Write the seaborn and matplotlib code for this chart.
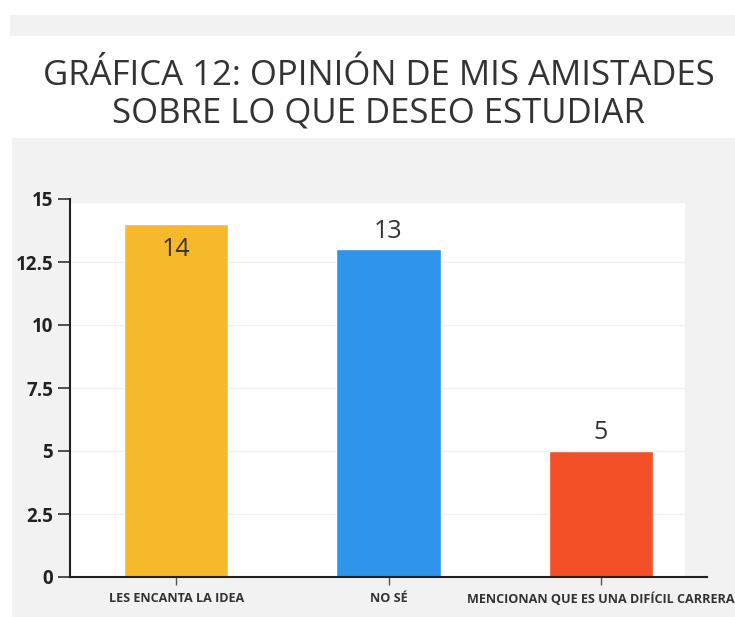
import matplotlib
matplotlib.use("Agg")
import matplotlib.pyplot as plt
import seaborn as sns
import pandas as pd
from matplotlib.patches import Rectangle

categories = ["LES ENCANTA LA IDEA", "NO SÉ", "MENCIONAN QUE ES UNA DIFÍCIL CARRERA"]
values = [14, 13, 5]
colors = ["#F6B92B", "#2E95EC", "#F44F26"]
yticks = [0, 2.5, 5, 7.5, 10, 12.5, 15]
ytick_labels = ["0", "2.5", "5", "7.5", "10", "12.5", "15"]
title_lines = ["GRÁFICA 12: OPINIÓN DE MIS AMISTADES", "SOBRE LO QUE DESEO ESTUDIAR"]

sns.set_theme(style="white")
plt.rcParams['font.family'] = ['Open Sans', 'DejaVu Sans']

W, H = 735, 617
dpi = 100
fig = plt.figure(figsize=(W / dpi, H / dpi), dpi=dpi)
fig.patch.set_facecolor("white")

def fx(px):
    return px / W

def fy(py):
    return 1 - py / H

# background panels
fig.patches.append(Rectangle((fx(10), fy(36)), fx(735 - 10), 21 / H,
                             transform=fig.transFigure, facecolor="#F2F2F2", edgecolor="none", zorder=0))
fig.patches.append(Rectangle((fx(12), 0), fx(735 - 12), fy(138),
                             transform=fig.transFigure, facecolor="#F2F2F2", edgecolor="none", zorder=0))
fig.patches.append(Rectangle((fx(70), fy(577)), fx(685 - 70), (577 - 203) / H,
                             transform=fig.transFigure, facecolor="white", edgecolor="none", zorder=0))

ax = fig.add_axes([fx(70), fy(577), fx(707 - 70), (577 - 199) / H])
ax.set_facecolor("none")
ax.set_zorder(2)

df = pd.DataFrame({"cat": categories, "val": values})
sns.barplot(data=df, x="cat", y="val", hue="cat", palette=colors, legend=False,
            width=0.49, ax=ax, saturation=1, zorder=2)

ax.set_xlim(-0.5, 2.5)
ax.set_ylim(0, 15)
ax.set_yticks(yticks)
ax.set_yticklabels(ytick_labels, fontsize=13.5, fontweight="bold", color="#222222")
ax.set_xticks(range(len(categories)))
ax.set_xticklabels(categories, fontsize=9.1, fontweight="bold", color="#333333")
ax.set_xlabel("")
ax.set_ylabel("")

for s in ["top", "right"]:
    ax.spines[s].set_visible(False)
for s in ["left", "bottom"]:
    ax.spines[s].set_color("#222222")
    ax.spines[s].set_linewidth(1.5)

ax.tick_params(axis="y", direction="out", length=9, width=1.2, color="#333333", pad=3, left=True)
ax.tick_params(axis="x", direction="out", length=6, width=1.0, color="#555555", pad=5, bottom=True)

for y in yticks[1:-1]:
    ax.axhline(y, color="#F0F0F0", linewidth=1, zorder=1, xmax=(685 - 70) / (707 - 70))

# value labels
for i, v in enumerate(values):
    if v >= 14:
        ax.annotate(str(v), (i, v), xytext=(0, -9), textcoords="offset points",
                    ha="center", va="top", fontsize=18, color="#333333", zorder=3)
    else:
        ax.annotate(str(v), (i, v), xytext=(0, 4), textcoords="offset points",
                    ha="center", va="bottom", fontsize=18, color="#333333", zorder=3)

for line, base in zip(title_lines, [85, 123]):
    fig.text(0.515, fy(base), line, ha="center", va="baseline", fontsize=25, color="#333333")

fig.savefig("out.png", dpi=dpi)
